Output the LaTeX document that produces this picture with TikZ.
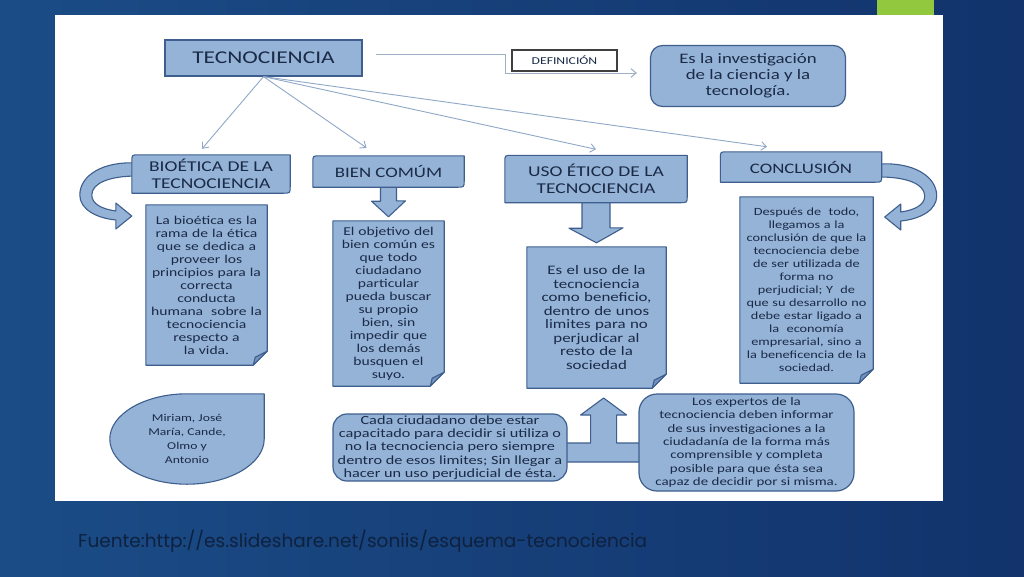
\documentclass[tikz,border=0pt]{standalone}
\usepackage{fontspec}
\setmainfont[FakeStretch=1.3]{Carlito}
\newfontfamily\footfont{Poppins}
\usepackage{tikz}
\usetikzlibrary{arrows.meta,backgrounds}
\pgfdeclarelayer{back}
\pgfsetlayers{back,background,main}
\definecolor{boxc}{HTML}{95B3D7}
\definecolor{bordc}{HTML}{3E5F8E}
\definecolor{foldc}{HTML}{7393BE}
\definecolor{inkc}{HTML}{1A2A47}
\definecolor{linec}{HTML}{8FA8C8}
\definecolor{elbc}{HTML}{9DAFC4}
\definecolor{darkc}{HTML}{404040}
\definecolor{bgl}{HTML}{1B4C86}
\definecolor{bgm}{HTML}{2A6E9E}
\definecolor{bgr}{HTML}{12336C}
\definecolor{limec}{HTML}{92C83E}
\definecolor{footc}{HTML}{0E213F}
\newcommand{\fs}[2]{\fontsize{#1}{#2}\selectfont}
\tikzset{
  ar/.style={-{Straight Barb[length=1.8mm,width=3mm]},linec,line width=0.9pt},
  elb/.style={-{Straight Barb[length=1.8mm,width=3mm]},elbc,line width=1pt},
  ttl/.style={align=center,text=inkc,inner sep=0pt},
  hd/.style={ttl,font=\fs{15}{17.5}},
  rbox/.style={ttl,draw=bordc,fill=boxc,line width=1.2pt,rounded corners=12pt},
  note/.style 2 args={ttl,inner xsep=0pt,text width=#1,minimum height=#2},
  blk/.style={fill=boxc,draw=bordc,line width=1.1pt,line join=round},
  curvarr/.pic={
    \filldraw[blk] (-2,-3) .. controls (31,-5) and (55,9) .. (55,29)
      .. controls (55,43) and (39,52) .. (19,54) -- (19,63) -- (3,50) -- (19,37) -- (19,45)
      .. controls (33,43) and (43,38) .. (43,29) .. controls (43,17) and (25,10) .. (-2,10) -- cycle;
  }
}
% box with rounded top-left and bottom-right corners
\newcommand{\diagshape}[1]{%
  \filldraw[blk] (#1.north east) -- ([yshift=7pt]#1.south east) .. controls (#1.south east) .. ([xshift=-7pt]#1.south east)
    -- (#1.south west) -- ([yshift=-7pt]#1.north west) .. controls (#1.north west) .. ([xshift=7pt]#1.north west) -- cycle;}
% sheet with folded corner
\newcommand{\noteshape}[1]{%
  \filldraw[blk] (#1.north west) -- (#1.north east) -- ([yshift=14pt]#1.south east) -- ([xshift=-14pt]#1.south east) -- (#1.south west) -- cycle;
  \filldraw[blk,fill=foldc] ([yshift=14pt]#1.south east) -- ([xshift=-14pt]#1.south east) -- ([xshift=-12pt,yshift=8pt]#1.south east) -- cycle;}

\begin{document}
\begin{tikzpicture}[x=1pt,y=-1pt]
\useasboundingbox (0,0) rectangle (1024,576);
\begin{pgfonlayer}{back}
\shade[left color=bgl,middle color=bgm,right color=bgr] (0,0) rectangle (1024,576);
\fill[white] (55,15) rectangle (943,501);
\fill[limec] (877,0) rectangle (934,15);
\end{pgfonlayer}

% top row
\node[ttl,draw=bordc,fill=boxc,line width=1.2pt,minimum width=197pt,minimum height=36pt,font=\fs{18}{20}] (tec) at (263.5,58) {TECNOCIENCIA};
\node[ttl,draw=darkc,fill=white,line width=1.4pt,minimum width=105pt,minimum height=21pt,font=\fs{10.5}{12}] (defi) at (564.5,60.5) {DEFINICIÓN};
\node[rbox,minimum width=195pt,minimum height=61pt,font=\fs{14.5}{16}] (esla) at (748,76) {Es la investigación\\de la ciencia y la\\tecnología.};

% headings
\node[hd,minimum width=158pt,minimum height=38pt] (bio) at (211,174) {BIOÉTICA DE LA\\TECNOCIENCIA};
\node[hd,minimum width=151pt,minimum height=31pt,font=\fs{14.5}{16}] (bien) at (388.5,171.5) {BIEN COMÚM};
\node[hd,minimum width=182pt,minimum height=47pt] (uso) at (596,179) {USO ÉTICO DE LA\\TECNOCIENCIA};
\node[hd,minimum width=161pt,minimum height=30pt,font=\fs{14.5}{16}] (concl) at (801,167) {CONCLUSIÓN};

% sheets
\node[note={121pt}{160pt},font=\fs{12}{13}] (bionote) at (206.5,285) {La bioética es la\\rama de la ética\\que se dedica a\\proveer los\\principios para la\\correcta\\conducta\\humana\ \ sobre la\\tecnociencia\\respecto a\\la vida.};
\node[note={111pt}{165pt},font=\fs{12}{13}] (biennote) at (388.5,303.5) {El objetivo del\\bien común es\\que todo\\ciudadano\\particular\\pueda buscar\\su propio\\bien, sin\\impedir que\\los demás\\busquen el\\suyo.};
\node[note={139pt}{141pt},font=\fs{13}{13.5}] (usonote) at (596.5,317.5) {Es el uso de la\\tecnociencia\\como beneficio,\\dentro de unos\\limites para no\\perjudicar al\\resto de la\\sociedad};
\node[note={133pt}{186pt},font=\fs{11}{13}] (conclnote) at (806.5,290) {Después de\ \ todo,\\llegamos a la\\conclusión de que la\\tecnociencia debe\\de ser utilizada de\\forma no\\perjudicial; Y\ \ de\\que su desarrollo no\\debe estar ligado a\\la\ \ economía\\empresarial, sino a\\la beneficencia de la\\sociedad.};

% bottom row
\node[ttl,minimum width=154pt,minimum height=90pt,font=\fs{10.5}{14}] (names) at (187,439) {Miriam, José\\María, Cande,\\Olmo y\\Antonio};
\node[rbox,rounded corners=14pt,minimum width=234pt,minimum height=67pt,font=\fs{12.5}{13.3}] (cada) at (450,447.5) {Cada ciudadano debe estar\\capacitado para decidir si utiliza o\\no la tecnociencia pero siempre\\dentro de esos limites; Sin llegar a\\hacer un uso perjudicial de ésta.};
\node[rbox,rounded corners=18pt,minimum width=215pt,minimum height=97pt,font=\fs{11.5}{13.3}] (expertos) at (746.5,442.5) {Los expertos de la\\tecnociencia deben informar\\de sus investigaciones a la\\ciudadanía de la forma más\\comprensible y completa\\posible para que ésta sea\\capaz de decidir por si misma.};

\node[anchor=west,inner sep=0pt,text=footc,font=\footfont\fs{18.5}{21}] (src) at (78,541) {Fuente:http://es.slideshare.net/soniis/esquema-tecnociencia};

% connectors
\draw[ar] (tec.south) -- ([xshift=-9pt,yshift=6pt]bio.north);
\draw[ar] (tec.south) -- ([xshift=-22pt,yshift=8pt]bien.north);
\draw[ar] (tec.south) -- ([yshift=6pt]uso.north);
\draw[ar] (tec.south) -- ([xshift=-34pt,yshift=5pt]concl.north);
\draw[elb] ([xshift=13pt,yshift=4pt]tec.east) -- ++(130,0) |- ([xshift=-13pt,yshift=3pt]esla.west);

\begin{scope}[on background layer]
% block arrows
\filldraw[blk] ([xshift=-8pt,yshift=2pt]bien.south) -- ++(0,16) -- ++(-9,0) -- ([yshift=4pt]biennote.north)
  -- ++(17,-16) -- ++(-9,0) -- ([xshift=8pt,yshift=2pt]bien.south) -- cycle;
\filldraw[blk] ([xshift=-14pt,yshift=2pt]uso.south) -- ++(0,27.5) -- ++(-13,0) -- ([yshift=4pt]usonote.north)
  -- ++(26.5,-15) -- ++(-13,0) -- ([xshift=14pt,yshift=2pt]uso.south) -- cycle;
\filldraw[blk] ([xshift=-6pt,yshift=-14.5pt]cada.east) -- ++(0,-19) -- ++(29,0) -- ++(0,-28) -- ++(-10,0)
  -- ++(23,-17) -- ++(23,17) -- ++(-10,0) -- ++(0,28) -- ([xshift=6pt,yshift=-0.5pt]expertos.west) -- ++(0,19) -- cycle;
\pic at (concl.east) {curvarr};
\pic[xscale=-1] at ([xshift=3pt,yshift=8pt]bio.west) {curvarr};
% shapes behind the texts
\foreach \n in {bio,bien,uso,concl} {\diagshape{\n}}
\foreach \n in {bionote,biennote,usonote,conclnote} {\noteshape{\n}}
\filldraw[blk] (names.north east) -- (names.east) .. controls ([yshift=-25pt]names.east) and ([xshift=42pt]names.south) .. (names.south)
  .. controls ([xshift=-42pt]names.south) and ([yshift=-25pt]names.west) .. (names.west)
  .. controls ([yshift=25pt]names.west) and ([xshift=-42pt]names.north) .. (names.north) -- cycle;
\end{scope}
\end{tikzpicture}
\end{document}
